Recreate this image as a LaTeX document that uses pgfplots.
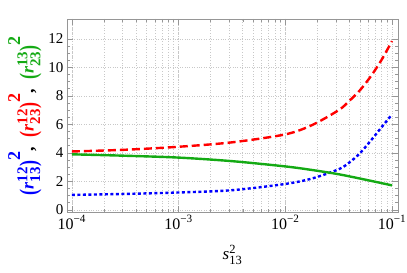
\documentclass[border=0pt]{standalone}
\usepackage{fontspec}
\setmainfont{Liberation Serif}
\usepackage{amsmath}
\usepackage{graphicx}
\DeclareMathSizes{18}{18}{15}{11}
\DeclareMathSizes{17}{17}{12.5}{9}
\usepackage{pgfplots}
\pgfplotsset{compat=1.18}
\definecolor{mred}{RGB}{255,0,0}
\definecolor{mblue}{RGB}{0,0,255}
\definecolor{mgreen}{RGB}{20,170,20}
\definecolor{framec}{RGB}{150,150,150}
\definecolor{gridc}{RGB}{200,200,200}
\newcommand\bp[1]{\raisebox{-0.15em}{\scalebox{1}[1.35]{#1}}}
\newcommand\rr[2]{\bp{(}\textit{r}$^{\text{\bfseries #1}}_{\text{\bfseries #2}}$\bp{)}$^{\raisebox{0.4em}{\text{\bfseries 2}}}$}
\begin{document}
\begin{tikzpicture}
\begin{axis}[
  scale only axis, width=331pt, height=193pt,
  xmode=log, xmin=9.0e-5, xmax=0.1138, ymin=-0.15, ymax=13.4,
  axis line style={framec, line width=0.8pt},
  every tick/.style={framec, line width=0.6pt},
  major tick length=6pt, minor tick length=3pt,
  xtick={1e-4,1e-3,1e-2,1e-1},
  xticklabels={10\textsuperscript{−4},10\textsuperscript{−3},10\textsuperscript{−2},10\textsuperscript{−1}},
  ytick={0,2,4,6,8,10,12},
  yticklabels={0,2,4,6,8,10,12},
  minor y tick num=3,
  xticklabel style={font=\fontsize{16}{18}\selectfont, black},
  yticklabel style={font=\fontsize{15}{17}\selectfont, black},
  xmajorgrids, xminorgrids, ymajorgrids,
  grid style={gridc, dotted, line width=0.7pt},
  minor grid style={gridc, dotted, line width=0.7pt},
  xlabel={\fontsize{17}{19}\selectfont\textit{s}$^{\text{2}}_{\text{13}}$},
  xlabel style={at={(axis description cs:0.5,0)}, anchor=center, yshift=-43pt},
  ylabel={\fontsize{18}{20}\selectfont\bfseries
    \textcolor{mblue}{\rr{12}{13}},\ \ \textcolor{mred}{\rr{12}{23}},\ \ \textcolor{mgreen}{\rr{13}{23}}},
  ylabel style={at={(axis description cs:-0.127,0.5)}, anchor=center},
]
\addplot[mred, line width=2.4pt, dash pattern=on 8pt off 4pt, smooth] coordinates {
(1e-4,4.10) (3.162e-4,4.22) (1e-3,4.43) (3.162e-3,4.74) (1e-2,5.30) (0.01778,5.95)
(0.03162,7.00) (0.03981,7.65) (0.05012,8.40) (0.06310,9.36) (0.07943,10.5) (0.1,11.85)};
\addplot[mblue, line width=2.4pt, dash pattern=on 3pt off 2.5pt, smooth] coordinates {
(1e-4,1.05) (3.162e-4,1.12) (1e-3,1.22) (3.162e-3,1.38) (1e-2,1.82) (0.01778,2.20)
(0.03162,2.85) (0.03981,3.32) (0.05012,3.98) (0.06310,4.85) (0.07943,5.78) (0.1,6.70)};
\addplot[mgreen, line width=2.4pt, smooth] coordinates {
(1e-4,3.90) (3.162e-4,3.80) (1e-3,3.67) (3.162e-3,3.42) (1e-2,3.05) (0.01778,2.80)
(0.03162,2.50) (0.05623,2.12) (0.1,1.72)};
\end{axis}
\pgfresetboundingbox
\path (-67pt,-61pt) rectangle (340pt,212pt);
\end{tikzpicture}
\end{document}
